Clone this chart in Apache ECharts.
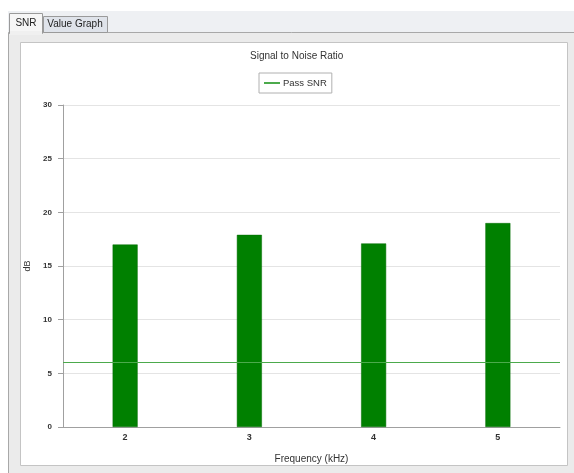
<!DOCTYPE html>
<html>
<head>
<meta charset="utf-8">
<script src="https://cdn.jsdelivr.net/npm/echarts@6/dist/echarts.min.js"></script>
<style>
html,body{margin:0;padding:0;background:#fff;}
#c{width:574px;height:473px;}
</style>
</head>
<body>
<div id="c"></div>
<script>
var categories = ['2', '3', '4', '5'];
var snrValues = [17.0, 17.9, 17.1, 19.0];
var passSNR = 6;
var yTicks = [0, 5, 10, 15, 20, 25, 30];

var FONT = '"Liberation Sans", "DejaVu Sans", sans-serif';
var chart = echarts.init(document.getElementById('c'), null, {renderer: 'canvas'});
chart.setOption({
  backgroundColor: '#ffffff',
  animation: false,
  textStyle: {fontFamily: FONT},
  graphic: [
    {type: 'rect', z: -20, shape: {x: 8, y: 11, width: 566, height: 22}, style: {fill: '#eef0f3', stroke: null}},
    {type: 'rect', z: -20, shape: {x: 8.5, y: 32.5, width: 570, height: 450}, style: {fill: '#ebebeb', stroke: '#a8a8a8', lineWidth: 1}},
    {type: 'rect', z: -19, shape: {x: 20.5, y: 42.5, width: 547, height: 423}, style: {fill: '#ffffff', stroke: '#c4c4c4', lineWidth: 1}},
    {type: 'rect', z: -18, shape: {x: 43.5, y: 16.5, width: 64, height: 16}, style: {fill: '#dfe3ea', stroke: '#9a9a9a', lineWidth: 1}},
    {type: 'text', z: -17, style: {x: 75, y: 24.5, text: 'Value Graph', font: '10px ' + FONT, fill: '#222', textAlign: 'center', textVerticalAlign: 'middle'}},
    {type: 'rect', z: -18, shape: {x: 9.5, y: 13.5, width: 33, height: 20}, style: {fill: '#f6f6f6', stroke: '#9a9a9a', lineWidth: 1}},
    {type: 'rect', z: -17, shape: {x: 10, y: 31, width: 32, height: 4}, style: {fill: '#f0f0f0', stroke: null}},
    {type: 'text', z: -16, style: {x: 26, y: 23.5, text: 'SNR', font: '10px ' + FONT, fill: '#222', textAlign: 'center', textVerticalAlign: 'middle'}}
  ],
  title: {
    text: 'Signal to Noise Ratio',
    left: 250,
    top: 51,
    padding: 0,
    textStyle: {fontSize: 10, fontWeight: 'normal', color: '#333', fontFamily: FONT}
  },
  legend: {
    data: [{name: 'Pass SNR', icon: 'rect'}],
    left: 259,
    top: 73,
    padding: [5, 5, 5, 5],
    borderColor: '#b0b0b0',
    borderWidth: 1,
    backgroundColor: '#fff',
    itemWidth: 16,
    itemHeight: 2,
    itemGap: 4,
    textStyle: {fontSize: 9.5, color: '#333', fontFamily: FONT, padding: [0, 0, 0, -2]}
  },
  grid: {left: 63, right: 14, top: 105, bottom: 46, containLabel: false},
  xAxis: {
    type: 'category',
    data: categories,
    name: 'Frequency (kHz)',
    nameLocation: 'middle',
    nameGap: 27,
    nameTextStyle: {fontSize: 10, color: '#333'},
    axisLine: {lineStyle: {color: '#a0a0a0', width: 1}},
    axisTick: {show: false},
    axisLabel: {fontSize: 9, color: '#333', margin: 6, fontWeight: 'bold'}
  },
  yAxis: {
    type: 'value',
    min: yTicks[0],
    max: yTicks[yTicks.length - 1],
    interval: yTicks[1] - yTicks[0],
    name: 'dB',
    nameLocation: 'middle',
    nameGap: 26,
    nameRotate: 90,
    nameTextStyle: {fontSize: 9, color: '#333'},
    axisLine: {show: true, lineStyle: {color: '#a0a0a0', width: 1}},
    axisTick: {show: true, length: 5, lineStyle: {color: '#a0a0a0'}},
    axisLabel: {fontSize: 8, color: '#333', margin: 11, fontWeight: 'bold'},
    splitLine: {lineStyle: {color: '#e4e4e4', width: 1}}
  },
  series: [
    {
      name: 'SNR',
      type: 'bar',
      data: snrValues,
      barWidth: 25,
      itemStyle: {color: '#008000', borderColor: '#006a00', borderWidth: 0.5},
      z: 3
    },
    {
      name: 'Pass SNR',
      type: 'line',
      data: [],
      symbol: 'none',
      color: '#4caa4c',
      itemStyle: {color: '#4caa4c'},
      lineStyle: {color: '#4caa4c', width: 1},
      markLine: {
        silent: true,
        symbol: ['none', 'none'],
        label: {show: false},
        lineStyle: {color: '#4caa4c', width: 1, type: 'solid'},
        data: [{yAxis: passSNR}]
      },
      z: 2
    }
  ]
});
</script>
</body>
</html>
